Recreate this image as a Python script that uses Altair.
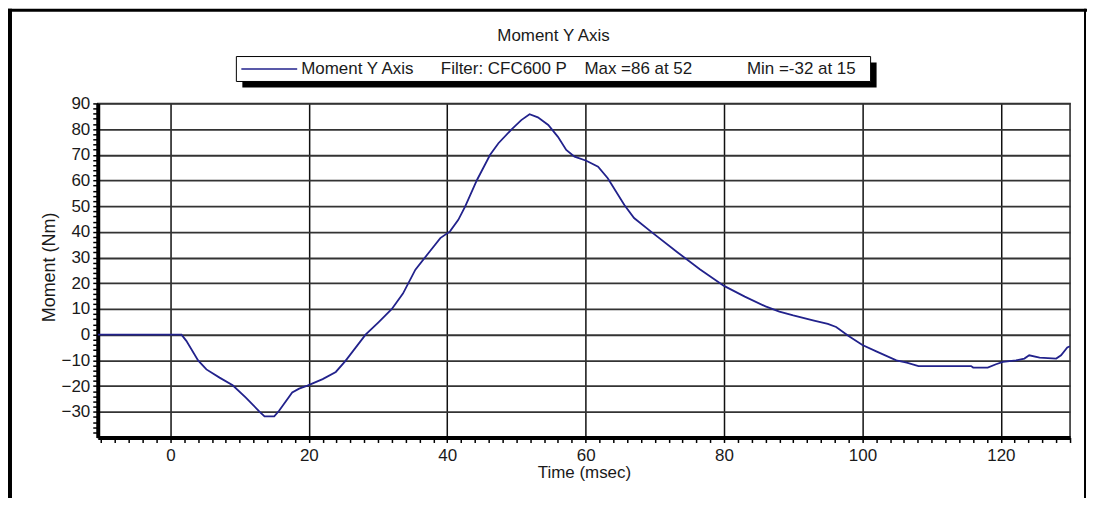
import altair as alt
import pandas as pd

# ---- data ----
time_ms = [-10.5, 1.6, 2.3, 4.0, 5.2, 7.1, 9.0, 10.9, 12.9, 13.6, 15.0, 15.7, 17.6, 18.6, 19.8,
           22.0, 23.9, 25.3, 28.2, 30.1, 32.0, 33.6, 35.4, 37.3, 39.0, 40.4, 41.6, 42.6, 44.3,
           46.2, 47.4, 49.3, 50.7, 51.9, 53.1, 54.6, 56.0, 57.2, 58.4, 60.1, 61.8, 63.2, 65.6,
           67.0, 69.4, 73.3, 76.5, 80.0, 83.0, 86.0, 88.0, 90.0, 93.0, 95.0, 96.2, 98.0, 100.0,
           102.0, 104.9, 106.4, 108.1, 111.7, 115.7, 116.0, 118.1, 119.3, 120.3, 122.2, 123.4,
           124.1, 125.6, 128.0, 128.7, 129.6, 130.0]
moment_nm = [0, 0, -2.4, -10, -13.5, -16.7, -19.7, -24.5, -30, -31.8, -31.8, -29.6, -22.5, -21,
             -19.8, -17.3, -14.5, -10.2, 0, 4.9, 10.0, 16.0, 25.3, 31.8, 37.6, 40.2, 44.7, 49.9,
             60.2, 70, 74.5, 79.9, 83.5, 85.8, 84.6, 81.6, 77, 71.9, 69.3, 67.7, 65.4, 60.9, 50.5,
             45.4, 40.2, 32, 25.5, 19, 14.8, 11, 9, 7.5, 5.5, 4.2, 3.0, -0.5, -4, -6.5, -10, -10.9,
             -12.2, -12.2, -12.2, -12.8, -12.8, -11.5, -10.6, -10, -9.3, -8, -8.9, -9.3, -8, -5,
             -4.5]

x_domain = [-10.5, 130]
y_domain = [-40, 90]
x_tick_values = list(range(-10, 131, 2))
y_tick_values = list(range(-38, 91, 2))

chart_title = "Moment Y Axis"
legend_name = "Moment Y Axis"
legend_filter = "Filter: CFC600 P"
legend_max = "Max =86 at 52"
legend_min = "Min =-32 at 15"
x_title = "Time (msec)"
y_title = "Moment (Nm)"

df = pd.DataFrame({"t": time_ms, "m": moment_nm})

FONT = "Liberation Sans, Arial, sans-serif"
FS = 17
LINE_COLOR = "#22228c"
TXT = "#1a1a1a"
W, H = 975, 335

line = alt.Chart(df).mark_line(color=LINE_COLOR, strokeWidth=1.8, clip=True).encode(
    x=alt.X("t:Q", scale=alt.Scale(domain=x_domain, nice=False, zero=False),
            axis=alt.Axis(values=x_tick_values, title=x_title,
                          labelExpr="datum.value % 20 === 0 ? datum.label : ''",
                          gridOpacity={"condition": {"test": "datum.value % 20 === 0", "value": 1}, "value": 0},
                          gridColor="#111", gridWidth=1.5,
                          domainColor="#000", domainWidth=4,
                          tickColor="#000", tickWidth=1.5, tickSize=5,
                          labelPadding=5, labelFontSize=FS, labelColor=TXT, labelFont=FONT,
                          labelFlush=False, labelOverlap=False,
                          titleFont=FONT, titleFontSize=FS, titleFontWeight="normal", titleColor=TXT,
                          titleX=W / 2, titleY=35, titleBaseline="middle")),
    y=alt.Y("m:Q", scale=alt.Scale(domain=y_domain, nice=False, zero=False),
            axis=alt.Axis(values=y_tick_values, title=y_title,
                          labelExpr="datum.value % 10 === 0 ? datum.label : ''",
                          gridOpacity={"condition": {"test": "datum.value % 10 === 0", "value": 1}, "value": 0},
                          gridColor="#333", gridWidth=1.8,
                          domainColor="#000", domainWidth=4,
                          tickColor="#000", tickWidth=1.5, tickSize=5,
                          labelPadding=3, labelFontSize=FS, labelColor=TXT, labelFont=FONT,
                          labelFlush=False, labelOverlap=False,
                          titleFont=FONT, titleFontSize=18, titleFontWeight="normal", titleColor=TXT,
                          titleX=-48, titleY=164, titleAngle=-90, titleBaseline="middle")),
)

one = alt.Data(values=[{}])

frame_left = alt.Chart(one).mark_rule(color="#000", strokeWidth=4).encode(
    x=alt.value(-88), y=alt.value(-95), y2=alt.value(400))
frame_top = alt.Chart(one).mark_rule(color="#000", strokeWidth=3).encode(
    x=alt.value(-90), x2=alt.value(992), y=alt.value(-93.5))
frame_right = alt.Chart(one).mark_rule(color="#000", strokeWidth=2).encode(
    x=alt.value(990), y=alt.value(-95), y2=alt.value(400))

title_txt = alt.Chart(one).mark_text(font=FONT, fontSize=FS, color=TXT, align="center",
                                     baseline="middle").encode(
    x=alt.value(457), y=alt.value(-68), text=alt.value(chart_title))

legend_shadow = alt.Chart(one).mark_rect(color="#000").encode(
    x=alt.value(145), x2=alt.value(781), y=alt.value(-41), y2=alt.value(-16))
legend_box = alt.Chart(one).mark_rect(fill="#fff", stroke="#000", strokeWidth=1).encode(
    x=alt.value(139), x2=alt.value(775), y=alt.value(-47), y2=alt.value(-22))
legend_sample = alt.Chart(one).mark_rule(color=LINE_COLOR, strokeWidth=1.5).encode(
    x=alt.value(144), x2=alt.value(200), y=alt.value(-34.5))

def legend_text(txt, xpos):
    return alt.Chart(one).mark_text(font=FONT, fontSize=FS, color=TXT, align="left",
                                    baseline="middle").encode(
        x=alt.value(xpos), y=alt.value(-34.5), text=alt.value(txt))

chart = alt.layer(
    line, frame_left, frame_top, frame_right, title_txt,
    legend_shadow, legend_box, legend_sample,
    legend_text(legend_name, 204),
    legend_text(legend_filter, 344),
    legend_text(legend_max, 488),
    legend_text(legend_min, 651),
).properties(
    width=W, height=H,
    autosize=alt.AutoSizeParams(type="none"),
    padding={"left": 90, "top": 95, "right": 17, "bottom": 60},
    background="#ffffff",
).configure_view(stroke="#222", strokeWidth=1.5)

chart.save("out.html", embed_options={"renderer": "svg", "actions": False})
